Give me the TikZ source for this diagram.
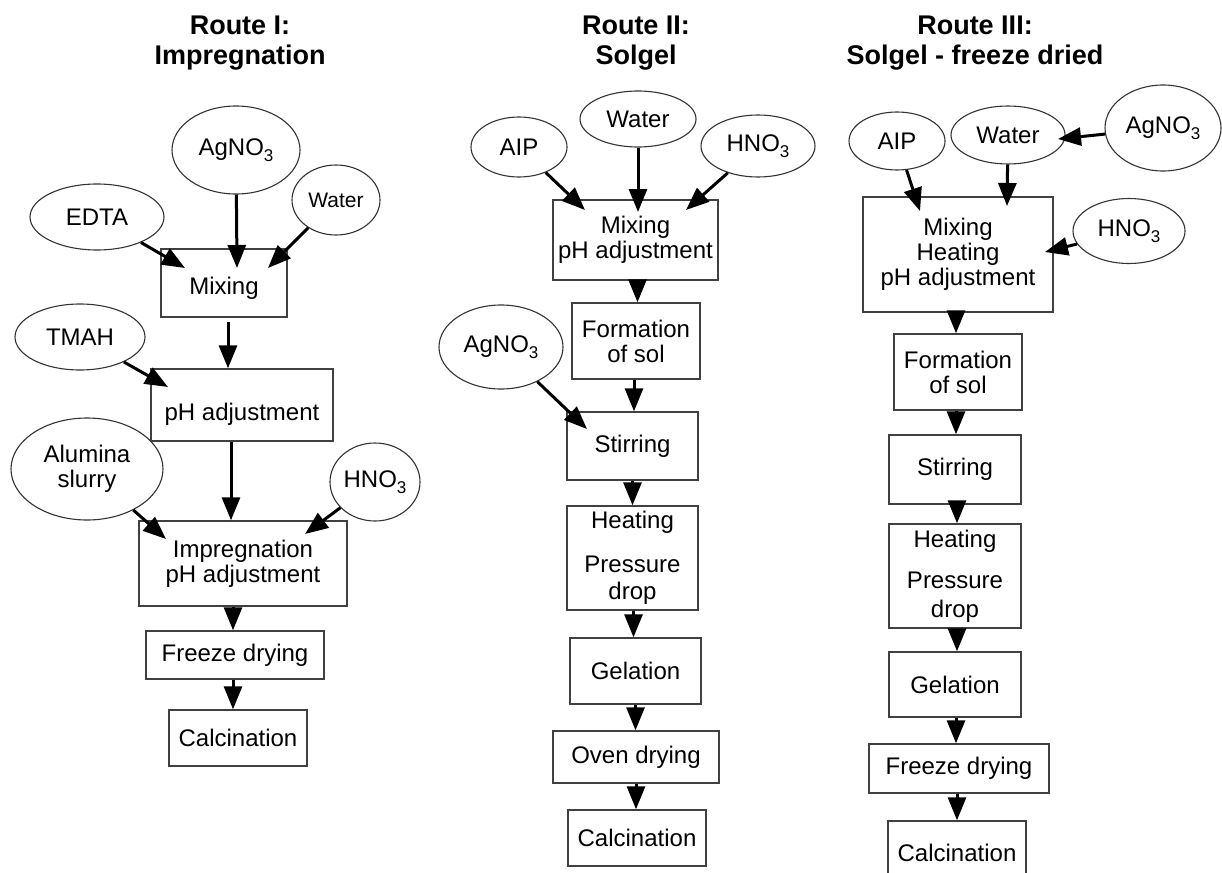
\documentclass[tikz,border=0pt]{standalone}
\usepackage{fontspec}
\setmainfont{Liberation Sans}
\usetikzlibrary{arrows.meta,shapes.geometric,calc}
\newcommand{\lowthree}{\raisebox{-0.26em}{\fontsize{17}{17}\selectfont 3}}
\begin{document}
\begin{tikzpicture}[x=1pt,y=-1pt,
  every node/.style={font=\fontsize{24}{25}\selectfont, inner sep=0pt, align=center},
  pbox/.style={draw=black!75, line width=1.4pt, rectangle},
  src/.style={draw=black!80, line width=1.1pt, ellipse},
  flow/.style={line width=3pt, -{Triangle[length=23pt 0 0,width=18pt 0 0]}},
  ttl/.style={font=\fontsize{27}{30}\selectfont\bfseries}
]
\clip (0,0) rectangle (1222,872);
\fill[white] (0,0) rectangle (1222,872);

% ---------- titles ----------
\node[ttl] (t1) at (240,43) {Route I:\\Impregnation};
\node[ttl] (t2) at (636,43) {Route II:\\Solgel};
\node[ttl] (t3) at (975,43) {Route III:\\Solgel - freeze dried};

% ---------- Route I ----------
\node[src, minimum width=128, minimum height=88] (ag1) at (236,150) {AgNO\lowthree};
\node[src, minimum width=88, minimum height=70, font=\fontsize{21}{22}\selectfont] (wat1) at (336,200) {Water};
\node[src, minimum width=134, minimum height=66] (edta1) at (97,217) {EDTA};
\node[src, minimum width=130, minimum height=66] (tmah1) at (80,337) {TMAH};
\node[src, minimum width=152, minimum height=102] (alu1) at (87,469) {Alumina\\slurry};
\node[src, minimum width=90, minimum height=78] (hno1) at (375,482) {HNO\lowthree};

\node[pbox, minimum width=126, minimum height=68, text height=23pt, text depth=0pt] (mix1) at (224,283) {Mixing};
\node[pbox, minimum width=182, minimum height=72, text height=30pt, text depth=0pt] (ph1) at (242,405) {pH adjustment};
\node[pbox, minimum width=208, minimum height=85] (imp1) at (243,563.5) {Impregnation\\pH adjustment};
\node[pbox, minimum width=178, minimum height=48] (fd1) at (235,655) {Freeze drying};
\node[pbox, minimum width=138, minimum height=56] (cal1) at (238,738) {Calcination};

\coordinate (e1) at (185,268);
\coordinate (a1) at (237,268);
\coordinate (w1) at (268,268);
\coordinate (tm1) at (168,387);
\coordinate (al1) at (166,539);
\coordinate (h1) at (305,534);
\draw[flow] (edta1) -- (e1);
\draw[flow] (ag1) -- (a1);
\draw[flow] (wat1) -- (w1);
\draw[flow] (tmah1) -- (tm1);
\draw[flow] (alu1) -- (al1);
\draw[flow] (hno1) -- (h1);

\coordinate (v1) at ($(mix1.south)+(4,4)$);
\coordinate (v2) at ($(ph1.south)+(-11,0)$);
\coordinate (v3) at ($(imp1.south)+(-10,0)$);
\coordinate (v4) at ($(fd1.south)+(-2,0)$);
\draw[flow] (v1) -- (v1 |- ph1.north);
\draw[flow] (v2) -- (v2 |- imp1.north);
\draw[flow] (v3) -- (v3 |- fd1.north);
\draw[flow] (v4) -- (v4 |- cal1.north);

% ---------- Route II ----------
\node[src, minimum width=96, minimum height=60] (aip2) at (519,147) {AIP};
\node[src, minimum width=116, minimum height=56] (wat2) at (638,119) {Water};
\node[src, minimum width=114, minimum height=62] (hno2) at (758,146) {HNO\lowthree};
\node[src, minimum width=124, minimum height=84] (ag2) at (501,347) {AgNO\lowthree};

\node[pbox, minimum width=165, minimum height=80] (mix2) at (635.5,240) {Mixing\\pH adjustment};
\node[pbox, minimum width=128, minimum height=76] (form2) at (636,341) {Formation\\of sol};
\node[pbox, minimum width=131, minimum height=68] (stir2) at (632.5,446) {Stirring};
\node[pbox, minimum width=131, minimum height=104] (heat2) at (632.5,558) {Heating\\[19pt]Pressure\\[2pt]drop};
\node[pbox, minimum width=131, minimum height=66] (gel2) at (635.5,671) {Gelation};
\node[pbox, minimum width=166, minimum height=52] (oven2) at (636,757) {Oven drying};
\node[pbox, minimum width=138, minimum height=56] (cal2) at (637,838) {Calcination};

\coordinate (ai2) at (585,210);
\coordinate (w2) at (638,212);
\coordinate (h2) at (686,210);
\coordinate (a2) at (587,429);
\draw[flow] (aip2) -- (ai2);
\draw[flow] (wat2) -- (w2);
\draw[flow] (hno2) -- (h2);
\draw[flow] (ag2) -- (a2);

\coordinate (u1) at ($(mix2.south)+(2,0)$);
\coordinate (u2) at ($(form2.south)+(-2,0)$);
\coordinate (u3) at (stir2.south);
\coordinate (u4) at ($(heat2.south)+(1,0)$);
\coordinate (u5) at (gel2.south);
\coordinate (u6) at (oven2.south);
\draw[flow] (u1) -- (u1 |- form2.north);
\draw[flow] (u2) -- (u2 |- stir2.north);
\draw[flow] (u3) -- (u3 |- heat2.north);
\draw[flow] (u4) -- (u4 |- gel2.north);
\draw[flow] (u5) -- (u5 |- oven2.north);
\draw[flow] (u6) -- (u6 |- cal2.north);

% ---------- Route III ----------
\node[src, minimum width=96, minimum height=58] (aip3) at (897,141) {AIP};
\node[src, minimum width=114, minimum height=58] (wat3) at (1008,135) {Water};
\node[src, minimum width=116, minimum height=86] (ag3) at (1163,128) {AgNO\lowthree};
\node[src, minimum width=112, minimum height=65] (hno3) at (1129,231) {HNO\lowthree};

\node[pbox, minimum width=190, minimum height=115] (mix3) at (958,254.5) {Mixing\\Heating\\pH adjustment};
\node[pbox, minimum width=128, minimum height=76] (form3) at (958,372) {Formation\\of sol};
\node[pbox, minimum width=132, minimum height=69] (stir3) at (955,469.5) {Stirring};
\node[pbox, minimum width=132, minimum height=104] (heat3) at (955,576) {Heating\\[16pt]Pressure\\[4pt]drop};
\node[pbox, minimum width=132, minimum height=65] (gel3) at (955,684.5) {Gelation};
\node[pbox, minimum width=180, minimum height=49] (fd3) at (959,768.5) {Freeze drying};
\node[pbox, minimum width=138, minimum height=56, text height=25pt, text depth=0pt] (cal3) at (957,849) {Calcination};

\coordinate (ai3) at (920,211);
\coordinate (w3) at (1007,206);
\coordinate (a3) at (1058,139);
\coordinate (h3) at (1045,252);
\draw[flow] (aip3) -- (ai3);
\draw[flow] (wat3) -- (w3);
\draw[flow] (ag3) -- (a3);
\draw[flow] (hno3) -- (h3);

\coordinate (s1) at ($(mix3.south)+(-2,0)$);
\coordinate (s2) at ($(form3.south)+(-2,0)$);
\coordinate (s3) at ($(stir3.south)+(2,0)$);
\coordinate (s4) at ($(heat3.south)+(2,0)$);
\coordinate (s5) at ($(gel3.south)+(1,0)$);
\coordinate (s6) at ($(fd3.south)+(-2,0)$);
\draw[flow] (s1) -- (s1 |- form3.north);
\draw[flow] (s2) -- (s2 |- stir3.north);
\draw[flow] (s3) -- (s3 |- heat3.north);
\draw[flow] (s4) -- (s4 |- gel3.north);
\draw[flow] (s5) -- (s5 |- fd3.north);
\draw[flow] (s6) -- (s6 |- cal3.north);
\end{tikzpicture}
\end{document}
